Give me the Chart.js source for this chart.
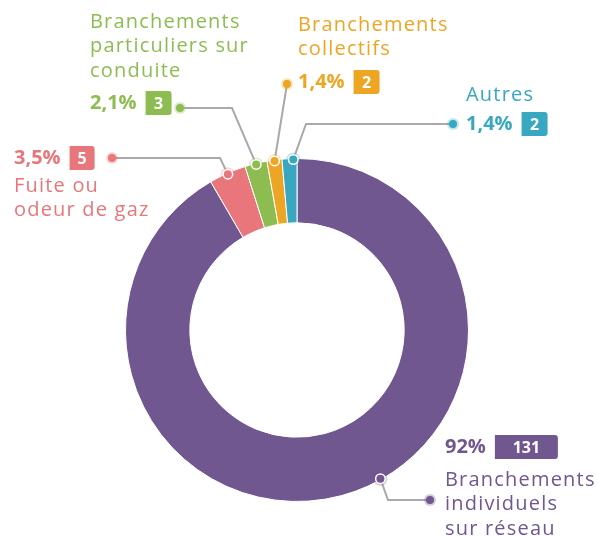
<!DOCTYPE html>
<html>
<head>
<meta charset="utf-8">
<script src="https://cdn.jsdelivr.net/npm/chart.js@4"></script>
<style>
  html, body { margin: 0; padding: 0; background: #fff; }
  #wrap { width: 598px; height: 536px; position: relative; }
</style>
</head>
<body>
<div id="wrap"><canvas id="myChart"></canvas></div>
<script>
// data
const categories = ["Branchements individuels sur réseau", "Fuite ou odeur de gaz", "Branchements particuliers sur conduite", "Branchements collectifs", "Autres"];
const counts = [131, 5, 3, 2, 2];
const percentLabels = ["92%", "3,5%", "2,1%", "1,4%", "1,4%"];
const colors = ["#70578f", "#e8767b", "#8dbd51", "#eda524", "#37a8c0"];

// label layout (text blocks + leader lines), per slice
const labelLayout = [
  { lines: ["Branchements", "individuels", "sur réseau"], textX: 445, textY: 480, pctY: 447, badgeW: 63, anchorFrac: 0.457, elbow: [388, 500], end: [430, 500] },
  { lines: ["Fuite ou", "odeur de gaz"], textX: 14, textY: 186, pctY: 158, badgeW: 25, anchorFrac: 0.5, elbow: [220, 158], end: [112, 158] },
  { lines: ["Branchements", "particuliers sur", "conduite"], textX: 90, textY: 22, pctY: 103, badgeW: 26, anchorFrac: 0.5, elbow: [232, 108], end: [180, 108] },
  { lines: ["Branchements", "collectifs"], textX: 298, textY: 25, pctY: 82, badgeW: 26, anchorFrac: 0.5, elbow: null, end: [287, 84] },
  { lines: ["Autres"], textX: 466, textY: 95, pctY: 124, badgeW: 26, anchorFrac: 0.75, elbow: [306, 124], end: [453, 124] }
];

const FONT = "'Open Sans', sans-serif";

function tint(hex, a) {
  const n = parseInt(hex.slice(1), 16);
  return "rgba(" + (n >> 16) + "," + ((n >> 8) & 255) + "," + (n & 255) + "," + a + ")";
}

function dot(ctx, x, y, color, onArc) {
  ctx.beginPath(); ctx.arc(x, y, onArc ? 7 : 6, 0, Math.PI * 2);
  ctx.fillStyle = tint(color, 0.3); ctx.fill();
  if (onArc) {
    ctx.beginPath(); ctx.arc(x, y, 5.5, 0, Math.PI * 2);
    ctx.fillStyle = "#fff"; ctx.fill();
  }
  ctx.beginPath(); ctx.arc(x, y, 4, 0, Math.PI * 2);
  ctx.fillStyle = color; ctx.fill();
}

function roundRect(ctx, x, y, w, h, r) {
  ctx.beginPath();
  ctx.moveTo(x, y);
  ctx.lineTo(x + w - r, y);
  ctx.quadraticCurveTo(x + w, y, x + w, y + r);
  ctx.lineTo(x + w, y + h - r);
  ctx.quadraticCurveTo(x + w, y + h, x + w - r, y + h);
  ctx.lineTo(x, y + h);
  ctx.closePath();
}

const calloutPlugin = {
  id: "callouts",
  afterDraw(chart) {
    const ctx = chart.ctx;
    const meta = chart.getDatasetMeta(0);
    ctx.save();
    meta.data.forEach((arc, i) => {
      const L = labelLayout[i];
      const p = arc.getProps(["x", "y", "startAngle", "endAngle", "outerRadius"], true);
      const ang = p.startAngle + (p.endAngle - p.startAngle) * L.anchorFrac;
      const ax = p.x + Math.cos(ang) * (p.outerRadius - 1);
      const ay = p.y + Math.sin(ang) * (p.outerRadius - 1);
      const col = colors[i];

      // leader line
      ctx.strokeStyle = "#a9a9a9";
      ctx.lineWidth = 2;
      ctx.beginPath();
      ctx.moveTo(ax, ay);
      if (L.elbow) ctx.lineTo(L.elbow[0], L.elbow[1]);
      ctx.lineTo(L.end[0], L.end[1]);
      ctx.stroke();
      dot(ctx, ax, ay, col, true);
      dot(ctx, L.end[0], L.end[1], col, false);

      // category text
      ctx.fillStyle = col;
      ctx.textBaseline = "middle";
      ctx.textAlign = "left";
      ctx.font = "20px " + FONT;
      ctx.letterSpacing = "1.2px";
      L.lines.forEach((t, k) => ctx.fillText(t, L.textX, L.textY + k * 24.5));

      // percent + badge
      ctx.font = "bold 20px " + FONT;
      ctx.letterSpacing = "0px";
      const pct = percentLabels[i];
      ctx.fillText(pct, L.textX, L.pctY);
      const bx = L.textX + ctx.measureText(pct).width + 9;
      roundRect(ctx, bx, L.pctY - 12, L.badgeW, 24, 3);
      ctx.fill();
      ctx.fillStyle = "#fff";
      ctx.font = "bold 16px " + FONT;
      ctx.textAlign = "center";
      ctx.fillText(String(counts[i]), bx + L.badgeW / 2, L.pctY + 1);
    });
    ctx.restore();
  }
};

new Chart(document.getElementById("myChart"), {
  type: "doughnut",
  data: {
    labels: categories,
    datasets: [{
      data: counts,
      backgroundColor: colors,
      borderColor: "#ffffff",
      borderWidth: 1
    }]
  },
  options: {
    responsive: true,
    maintainAspectRatio: false,
    animation: false,
    cutout: "62.5%",
    layout: { padding: { top: 158, bottom: 34, left: 0, right: 4 } },
    plugins: {
      legend: { display: false },
      tooltip: { enabled: false }
    }
  },
  plugins: [calloutPlugin]
});
</script>
</body>
</html>
